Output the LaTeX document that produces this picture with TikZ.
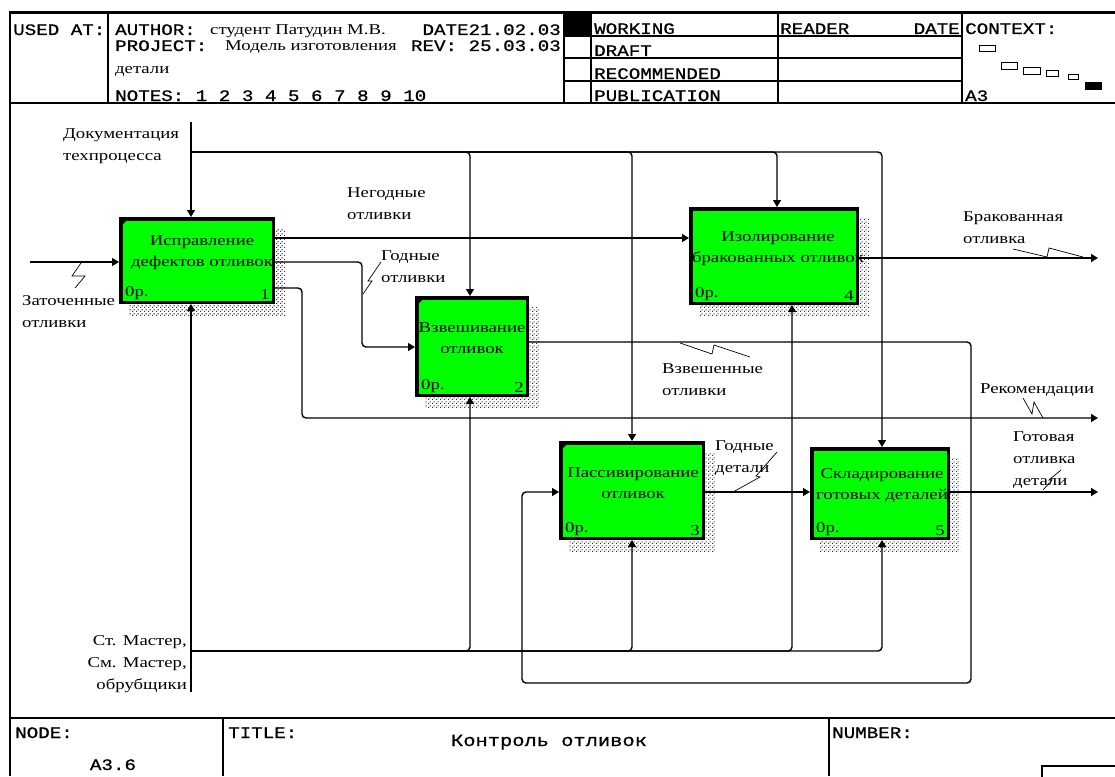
\documentclass[tikz,border=0pt]{standalone}
\usepackage{fontspec}
\setmainfont{Liberation Serif}
\newfontfamily\lblf[FakeStretch=1.25]{Liberation Serif}
\newfontfamily\monof[FakeStretch=1.2,FakeBold=0.8]{Liberation Mono}
\usetikzlibrary{arrows.meta,patterns.meta,backgrounds,calc}
\definecolor{idefgreen}{RGB}{0,255,0}
\tikzdeclarepattern{
  name=shadedots,
  type=uncolored,
  bottom left={(0pt,0pt)},
  top right={(4pt,4pt)},
  tile size={(4pt,4pt)},
  code={
    \pgfpathrectangle{\pgfpoint{0pt}{0pt}}{\pgfpoint{1.4pt}{1.4pt}}
    \pgfpathrectangle{\pgfpoint{2pt}{2pt}}{\pgfpoint{1.4pt}{1.4pt}}
    \pgfusepath{fill}
  }
}
\tikzset{
  fn/.style={draw=black, line width=3.5pt, fill=idefgreen, inner sep=0pt},
  ftxt/.style={font=\lblf\fontsize{15}{21}\selectfont, align=center, inner sep=0pt},
  lbl/.style={font=\lblf\fontsize{15}{22}\selectfont, align=left, inner sep=0pt, anchor=west},
  sm/.style={font=\lblf\fontsize{15}{16}\selectfont, inner sep=0pt},
  hd/.style={font=\monof\fontsize{16}{18}\selectfont, inner sep=0pt, anchor=base west},
  hs/.style={font=\lblf\fontsize{15}{16}\selectfont, inner sep=0pt, anchor=base west},
  frm/.style={line width=1.5pt},
  arr/.style={line width=1.4pt, rounded corners=4pt, -{Triangle[length=7pt,width=8pt]}},
  sq/.style={line width=0.7pt},
  shd/.style={pattern={shadedots}, pattern color=black!80},
  corner/.style={fill=black},
}
\begin{document}
\begin{tikzpicture}[x=1pt,y=-1pt]
\useasboundingbox (0,0) rectangle (1115,776);

% ---------- frame ----------
\draw[line width=3pt] (10,13) -- (1115,13);
\draw[frm] (10,11.5) -- (10,776);
\draw[frm] (10,103) -- (1115,103);
\draw[frm] (108,13) -- (108,103);
\draw[frm] (564,13) -- (564,103);
\draw[frm] (591,13) -- (591,103);
\draw[frm] (778,13) -- (778,103);
\draw[frm] (962,13) -- (962,103);
\draw[frm] (564,36) -- (962,36);
\draw[frm] (564,58) -- (962,58);
\draw[frm] (564,81) -- (962,81);
\fill (564,13) rectangle (591,36);
\draw[frm] (10,718) -- (1115,718);
\draw[frm] (223,718) -- (223,776);
\draw[frm] (829,718) -- (829,776);
\draw[frm] (1042,766) rectangle (1125,790);

% ---------- header texts ----------
\node[hd] (usedat) at (13,35) {USED AT:};
\node[hd] (author) at (115,35) {AUTHOR:};
\node[hs] (authorv) at (210,35) {студент Патудин М.В.};
\node[hd] (project) at (115,51) {PROJECT:};
\node[hs] (projectv) at (225,51) {Модель изготовления};
\node[hs] (projectv2) at (115,73) {детали};
\node[hd] (notes) at (115,101) {NOTES: 1 2 3 4 5 6 7 8 9 10};
\node[hd, anchor=base east] (date) at (561,35) {DATE21.02.03};
\node[hd, anchor=base east] (rev) at (561,51) {REV: 25.03.03};
\node[hd] (working) at (594,34) {WORKING};
\node[hd] (draft) at (594,56) {DRAFT};
\node[hd] (recom) at (594,79) {RECOMMENDED};
\node[hd] (publ) at (594,101) {PUBLICATION};
\node[hd] (reader) at (780,34) {READER};
\node[hd, anchor=base east] (rdate) at (960,34) {DATE};
\node[hd] (context) at (965,34) {CONTEXT:};
\node[hd] (ctxa) at (965,101) {A3};
\draw[line width=1pt] (979,46) rectangle (995,52);
\draw[line width=1pt] (1001,62) rectangle (1017,69);
\draw[line width=1pt] (1023,67) rectangle (1040,74);
\draw[line width=1pt] (1046,70) rectangle (1058,76);
\draw[line width=1pt] (1068,74) rectangle (1078,79);
\fill (1085,82) rectangle (1102,90);

% ---------- footer texts ----------
\node[hd] (nodel) at (15,738) {NODE:};
\node[hd, anchor=base] (nodev) at (113,770) {A3.6};
\node[hd] (titlel) at (228,738) {TITLE:};
\node[font=\monof\fontsize{17}{19}\selectfont, inner sep=0pt, anchor=base] (titlev) at (549,746) {Контроль отливок};
\node[hd] (numberl) at (832,738) {NUMBER:};

% ---------- function boxes ----------
\node[fn, minimum width=152.5pt, minimum height=83.5pt] (b1) at (197,260.5) {};
\node[fn, minimum width=110.5pt, minimum height=97.5pt] (b2) at (472,346.5) {};
\node[fn, minimum width=142.5pt, minimum height=95.5pt] (b3) at (632,490.5) {};
\node[fn, minimum width=166.5pt, minimum height=94.5pt] (b4) at (774,256) {};
\node[fn, minimum width=136.5pt, minimum height=89.5pt] (b5) at (880,493.5) {};

\begin{scope}[on background layer]
  \fill[white] (0,0) rectangle (1115,776);
  \foreach \b in {b1,b2,b3,b4,b5}{
    \fill[shd] ([shift={(10pt,-11pt)}]\b.south west) rectangle ([shift={(10pt,-11pt)}]\b.north east);
  }
\end{scope}

\foreach \b in {b1,b2,b3}{
  \fill[corner] ([shift={(1pt,-1pt)}]\b.north west) -- ++(9pt,0pt) -- ++(-9pt,-9pt) -- cycle;
}

\node[ftxt] (b1t) at (202,253) {Исправление\\дефектов отливок};
\node[ftxt] (b2t) at (472,338.5) {Взвешивание\\отливок};
\node[ftxt] (b3t) at (633,483.5) {Пассивирование\\отливок};
\node[ftxt] (b4t) at (778,248.5) {Изолирование\\бракованных отливок};
\node[ftxt] (b5t) at (882,485.5) {Складирование\\готовых деталей};

\foreach \b/\n in {b1/1,b2/2,b3/3,b4/4,b5/5}{
  \node[sm, anchor=south west] at ([shift={(6pt,4pt)}]\b.south west) {0р.};
  \node[sm, anchor=south east] at ([shift={(-5pt,4pt)}]\b.south east) {\n};
}

% ---------- free ends ----------
\coordinate (i1) at (30,262);
\coordinate (c1) at (191,122);
\coordinate (cj) at (191,152);
\coordinate (m1) at (191,692);
\coordinate (mj) at (191,651);
\coordinate (orec) at (1098,418);
\coordinate (obr) at (1098,258);
\coordinate (ogot) at (1098,492);

% ---------- connectors ----------
\draw[arr] (i1) -- (i1 -| b1.west);
\draw[arr] (c1) -- (c1 |- b1.north);
\draw[arr] (cj) -| ([xshift=-2pt]b2.north);
\draw[arr] (cj) -| (b3.north);
\draw[arr] (cj) -| ([xshift=3pt]b4.north);
\draw[arr] (cj) -| ([xshift=2pt]b5.north);
\draw[arr] (m1) -- (m1 |- b1.south);
\draw[arr] (mj) -| ([xshift=-2pt]b2.south);
\draw[arr] (mj) -| (b3.south);
\draw[arr] (mj) -| ([xshift=18pt]b4.south);
\draw[arr] (mj) -| ([xshift=2pt]b5.south);
\draw[arr] (b1.east |- 0,238) -- (b4.west |- 0,238);
\draw[arr] (b1.east |- 0,262) -| (362,347) -- (b2.west |- 0,347);
\draw[arr] (b1.east |- 0,288) -| (302,418) -- (orec);
\draw[arr] (b2.east |- 0,342) -| (971,683) -| (522,492) -- (b3.west |- 0,492);
\draw[arr] (b3.east |- 0,492) -- (b5.west |- 0,492);
\draw[arr] (b4.east |- 0,258) -- (obr);
\draw[arr] (b5.east |- 0,492) -- (ogot);

% ---------- squiggles ----------
\draw[sq] (81,263) -- (72,276) -- (85,276) -- (75,288);
\draw[sq] (363,294) -- (372,281) -- (368,281) -- (381,262);
\draw[sq] (680,343) -- (712,354) -- (714,345) -- (750,357);
\draw[sq] (733,492) -- (760,477) -- (756,476) -- (777,452);
\draw[sq] (1013,249) -- (1047,257) -- (1049,248) -- (1083,257);
\draw[sq] (1023,398) -- (1032,414) -- (1034,402) -- (1043,418);
\draw[sq] (1043,490) -- (1052,480) -- (1049,480) -- (1061,470);

% ---------- arrow labels ----------
\node[lbl] (ldoc) at (63,146) {Документация\\техпроцесса};
\node[lbl] (lzat) at (22,312) {Заточенные\\отливки};
\node[lbl] (lneg) at (347,204) {Негодные\\отливки};
\node[lbl] (lgod) at (381,267) {Годные\\отливки};
\node[lbl] (lvzv) at (662,380) {Взвешенные\\отливки};
\node[lbl] (lgdet) at (715,458) {Годные\\детали};
\node[lbl] (lbrak) at (963,228) {Бракованная\\отливка};
\node[lbl] (lrec) at (980,390) {Рекомендации};
\node[lbl] (lgot) at (1013,460) {Готовая\\отливка\\детали};
\node[lbl, anchor=east, align=right] (lmech) at (187,664) {Ст. Мастер,\\См. Мастер,\\обрубщики};
\end{tikzpicture}
\end{document}
